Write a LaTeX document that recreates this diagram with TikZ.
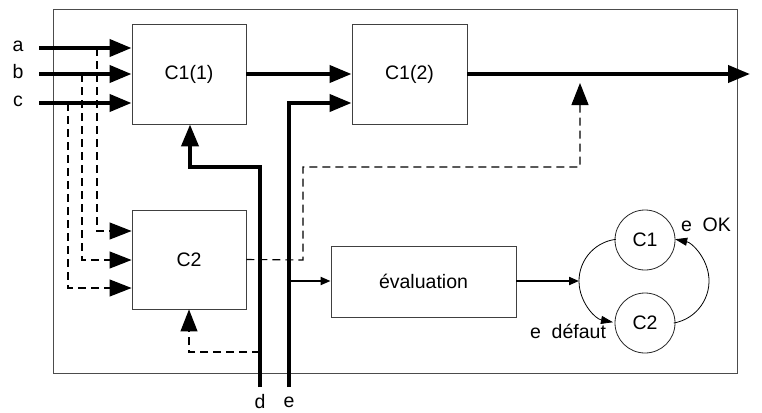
\documentclass[tikz,border=0pt]{standalone}
\usepackage{fontspec}
\setmainfont{Liberation Sans}
\usetikzlibrary{arrows.meta,calc}
\begin{document}
\begin{tikzpicture}[x=1pt,y=-1pt,
  every node/.style={font=\fontsize{19.5}{21}\selectfont},
  box/.style={draw=black!75,line width=0.9pt,inner sep=0pt},
  state/.style={draw=black!85,circle,line width=0.8pt,minimum size=60pt,inner sep=0pt},
  lbl/.style={inner sep=0pt},
  bigtip/.style={-{Triangle[length=22pt,width=17pt]}},
  thickline/.style={line width=4pt,bigtip},
  dashline/.style={line width=1.1pt,dash pattern=on 8pt off 5pt,bigtip},
  thinline/.style={line width=2pt,-{Triangle[length=10pt,width=8pt]}},
  arcline/.style={line width=0.8pt,-{Triangle[length=12pt,width=8pt]}}]
\useasboundingbox (0,0) rectangle (762,412);
\draw[black!70,line width=1pt] (53,10) rectangle (737,373);
% boxes
\node[box,minimum width=114pt,minimum height=100pt] (C11) at (189,74) {C1(1)};
\node[box,minimum width=115pt,minimum height=100pt] (C12) at (409.5,74) {C1(2)};
\node[box,minimum width=114pt,minimum height=99pt] (C2) at (189,259.5) {C2};
\node[box,minimum width=185pt,minimum height=71pt] (ev) at (423.5,281.5) {évaluation};
\node[state] (S1) at (645,240) {C1};
\node[state] (S2) at (645,323) {C2};
% input labels
\node[lbl] (la) at (18,46) {a};
\node[lbl] (lb) at (18,72) {b};
\node[lbl] (lc) at (18,101) {c};
\node[lbl] (ld) at (260,402) {d};
\node[lbl] (le) at (289,402) {e};
\node[lbl] (lok) at (706,225) {e~~OK};
\node[lbl] (ldef) at (568,331) {e~~défaut};
% coordinates
\coordinate (ina) at (39,48);
\coordinate (inb) at (39,74);
\coordinate (inc) at (39,103);
\coordinate (dA) at (97,48);
\coordinate (dB) at (82,74);
\coordinate (dC) at (68,103);
\coordinate (r1) at (0,231);
\coordinate (r2) at (0,260);
\coordinate (r3) at (0,288);
\coordinate (ind) at (260,387);
\coordinate (ine) at (289,387);
\coordinate (dk) at (260,167);
\coordinate (dj) at (190,167);
\coordinate (ej) at (289,103);
\coordinate (out) at (750,74);
\coordinate (c2a) at (303,260);
\coordinate (c2b) at (580,167);
\coordinate (c2t) at (580,83);
\coordinate (dd) at (260,352);
\coordinate (ee) at (289,281);
\coordinate (evo) at (579,281);
\coordinate (lc1) at (621,281);
\coordinate (rc1) at (666.3,281);
% dashed inputs to C2
\draw[dashline] (dA) |- (C2.west |- r1);
\draw[dashline] (dB) |- (C2.west |- r2);
\draw[dashline] (dC) |- (C2.west |- r3);
\draw[dashline] (C2.east) -- (c2a) |- (c2b) -- (c2t);
\draw[dashline] (dd) -| (C2.south);
% thick inputs
\draw[thickline] (ina) -- (C11.west |- ina);
\draw[thickline] (inb) -- (C11.west |- inb);
\draw[thickline] (inc) -- (C11.west |- inc);
\draw[thickline] (C11.east) -- (C12.west);
\draw[thickline] (C12.east) -- (out);
\draw[thickline] (ind) -- (dk) -- (dj) -- (C11.south -| dj);
\draw[thickline] (ine) -- (ej) -- (C12.west |- ej);
% evaluation
\draw[thinline] (ee) -- (ev.west |- ee);
\draw[thinline] (ev.east |- evo) -- (evo);
% state arcs
\draw[arcline] ($(lc1)+(-97:42)$) arc[start angle=-97, end angle=-259, radius=42];
\draw[arcline] ($(rc1)+(80:42.7)$) arc[start angle=80, end angle=-78, radius=42.7];
\end{tikzpicture}
\end{document}
